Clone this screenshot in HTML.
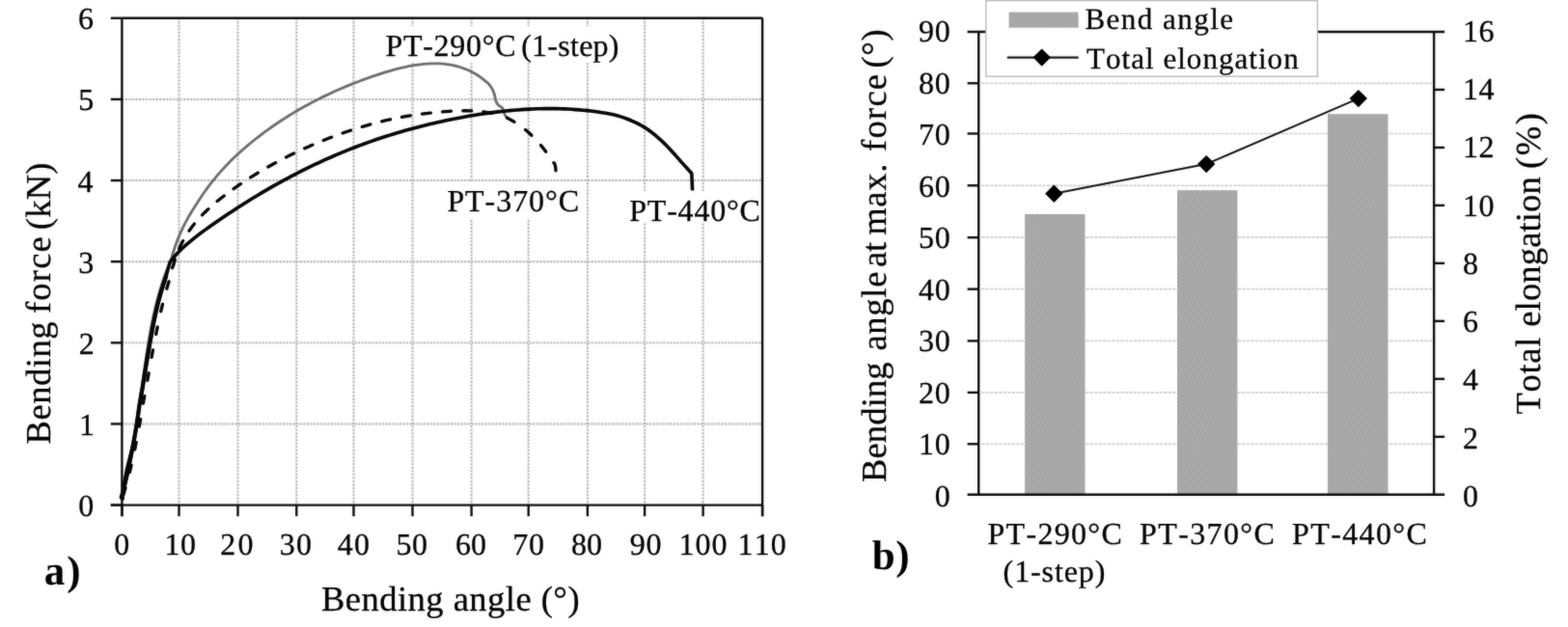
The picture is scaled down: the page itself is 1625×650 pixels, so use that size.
<!DOCTYPE html>
<html lang="en">
<head>
<meta charset="utf-8">
<title>Bending force vs. bending angle; bend angle and total elongation</title>
<style>
html,body{margin:0;padding:0;background:#fff;}
body{width:1625px;height:650px;overflow:hidden;}
svg{display:block;font-family:"Liberation Serif","DejaVu Serif",serif;font-kerning:none;text-rendering:geometricPrecision;}
svg text{white-space:pre;fill:#000;stroke:#000;stroke-width:0.3px;stroke-linejoin:round;}
svg text[font-weight=bold]{stroke-width:0;}
</style>
</head>
<body>
<svg width="1625" height="650" viewBox="0 0 1625 650" role="img" aria-label="a) Bending force versus bending angle curves; b) bend angle and total elongation">
<defs>
<pattern id="tex" width="4" height="4" patternUnits="userSpaceOnUse">
<rect width="4" height="4" fill="#a8a8a8"/>
<path d="M0 0h1v1h-1zM2 2h1v1h-1z" fill="#9c9c9c"/>
<path d="M2 0h1v1h-1zM0 2h1v1h-1z" fill="#b1b1b1"/>
</pattern>
<filter id="soft" x="0" y="0" width="1625" height="650" filterUnits="userSpaceOnUse" color-interpolation-filters="sRGB">
<feGaussianBlur in="SourceGraphic" stdDeviation="1" result="b"/>
<feComposite in="SourceGraphic" in2="b" operator="arithmetic" k1="0" k2="0.68" k3="0.32" k4="0"/>
</filter>
</defs>
<g filter="url(#soft)">
<rect width="1625" height="650" fill="#fff"/>
<g id="left-chart">
<g stroke="#f0f0f0" stroke-width="2.4" fill="none">
<line x1="185.50" y1="18.80" x2="185.50" y2="523.60"/>
<line x1="246.50" y1="18.80" x2="246.50" y2="523.60"/>
<line x1="307.30" y1="18.80" x2="307.30" y2="523.60"/>
<line x1="366.50" y1="18.80" x2="366.50" y2="523.60"/>
<line x1="427.50" y1="18.80" x2="427.50" y2="523.60"/>
<line x1="488.60" y1="18.80" x2="488.60" y2="523.60"/>
<line x1="547.70" y1="18.80" x2="547.70" y2="523.60"/>
<line x1="608.90" y1="18.80" x2="608.90" y2="523.60"/>
<line x1="668.10" y1="18.80" x2="668.10" y2="523.60"/>
<line x1="728.60" y1="18.80" x2="728.60" y2="523.60"/>
<line x1="126.40" y1="439.47" x2="790.10" y2="439.47"/>
<line x1="126.40" y1="355.33" x2="790.10" y2="355.33"/>
<line x1="126.40" y1="271.20" x2="790.10" y2="271.20"/>
<line x1="126.40" y1="187.07" x2="790.10" y2="187.07"/>
<line x1="126.40" y1="102.93" x2="790.10" y2="102.93"/>
</g>
<g stroke="#b2b2b2" stroke-width="1.9" stroke-dasharray="1.8 1.75" fill="none">
<line x1="185.50" y1="18.80" x2="185.50" y2="523.60"/>
<line x1="246.50" y1="18.80" x2="246.50" y2="523.60"/>
<line x1="307.30" y1="18.80" x2="307.30" y2="523.60"/>
<line x1="366.50" y1="18.80" x2="366.50" y2="523.60"/>
<line x1="427.50" y1="18.80" x2="427.50" y2="523.60"/>
<line x1="488.60" y1="18.80" x2="488.60" y2="523.60"/>
<line x1="547.70" y1="18.80" x2="547.70" y2="523.60"/>
<line x1="608.90" y1="18.80" x2="608.90" y2="523.60"/>
<line x1="668.10" y1="18.80" x2="668.10" y2="523.60"/>
<line x1="728.60" y1="18.80" x2="728.60" y2="523.60"/>
<line x1="126.40" y1="439.47" x2="790.10" y2="439.47"/>
<line x1="126.40" y1="355.33" x2="790.10" y2="355.33"/>
<line x1="126.40" y1="271.20" x2="790.10" y2="271.20"/>
<line x1="126.40" y1="187.07" x2="790.10" y2="187.07"/>
<line x1="126.40" y1="102.93" x2="790.10" y2="102.93"/>
</g>
<g fill="#fff">
<rect x="396" y="27.2" width="250" height="38"/>
<rect x="460" y="189" width="143" height="37.6"/>
<rect x="649" y="198" width="140" height="32.6"/>
</g>
<path d="M125.76 515.86L126.80 512.02L127.81 508.17L128.79 504.32L129.73 500.46L130.65 496.59L131.54 492.72L132.40 488.84L133.24 484.96L134.05 481.07L134.84 477.18L135.61 473.29L136.35 469.39L137.07 465.48L137.78 461.58L138.47 457.66L139.14 453.75L139.79 449.83L140.43 445.91L141.06 441.99L141.68 438.07L142.28 434.14L142.87 430.21L143.46 426.28L144.04 422.35L144.61 418.41L145.17 414.48L145.73 410.54L146.29 406.61L146.84 402.67L147.40 398.73L147.95 394.80L148.51 390.86L149.07 386.93L149.63 382.99L150.19 379.06L150.77 375.12L151.34 371.19L151.93 367.26L152.53 363.33L153.15 359.41L153.78 355.49L154.43 351.58L155.10 347.66L155.79 343.76L156.51 339.86L157.26 335.97L158.04 332.08L158.85 328.20L159.70 324.34L160.58 320.48L161.50 316.63L162.47 312.79L163.48 308.96L164.54 305.14L165.64 301.33L166.80 297.54L168.01 293.76L169.28 289.99L170.60 286.24L171.99 282.50L173.44 278.78L174.96 275.08L176.67 271.84L177.67 267.94L178.75 264.09L179.91 260.28L181.14 256.51L182.45 252.80L183.83 249.12L185.28 245.50L186.80 241.92L188.40 238.39L190.06 234.91L191.79 231.48L193.58 228.10L195.44 224.76L197.37 221.47L199.35 218.22L201.40 215.02L203.51 211.78L205.67 208.33L207.90 204.92L210.18 201.54L212.51 198.19L214.90 194.88L217.34 191.64L219.83 188.46L222.37 185.32L224.96 182.21L227.60 179.14L230.28 176.11L233.01 173.11L235.79 170.17L238.60 167.34L241.46 164.54L244.36 161.78L247.29 159.05L250.26 156.37L253.27 153.72L256.32 151.10L259.40 148.53L262.51 145.99L265.65 143.48L268.83 141.02L272.03 138.59L275.26 136.19L278.52 133.84L281.80 131.51L285.11 129.23L288.43 126.98L291.78 124.77L295.16 122.59L298.55 120.45L301.95 118.35L305.38 116.30L308.82 114.28L312.27 112.29L315.74 110.34L319.23 108.43L322.73 106.55L326.24 104.71L329.78 102.90L333.32 101.12L336.88 99.38L340.46 97.67L344.06 96.00L347.67 94.35L351.30 92.74L354.94 91.17L358.60 89.62L362.28 88.11L365.98 86.63L369.69 85.18L373.42 83.76L377.17 82.37L380.94 81.02L384.72 79.69L388.53 78.40L392.35 77.13L396.19 75.90L400.05 74.70L403.92 73.55L407.81 72.45L411.70 71.41L415.62 70.43L419.54 69.53L423.47 68.71L427.40 67.97L431.35 67.34L435.29 66.80L439.24 66.38L443.19 66.07L447.14 65.89L451.08 65.85L455.00 65.94L458.90 66.19L462.78 66.60L466.63 67.18L470.45 67.94L474.23 68.88L477.96 70.01L481.65 71.31L485.28 72.78L488.85 74.46L492.36 76.38L495.80 78.53L499.16 80.94L502.45 83.59L505.51 85.98L506.53 87.09L507.47 88.24L508.34 89.42L509.14 90.63L509.88 91.88L510.54 93.16L511.14 94.48L511.68 95.84L512.14 97.24L512.55 98.68L512.89 100.16L513.22 101.64L513.56 103.11L513.96 104.54L514.46 105.91L515.09 107.17L515.89 108.31L516.90 109.30L518.12 110.14L519.39 110.94L520.48 111.85L521.22 113.00L521.71 114.33L522.13 115.74L522.58 117.17L523.10 118.56L523.75 119.89L524.58 121.11L525.64 122.17" fill="none" stroke="#6c6c6c" stroke-width="2.8" stroke-linejoin="round" stroke-linecap="round"/>
<path d="M126.99 515.86L128.17 512.04L129.31 508.22L130.41 504.38L131.48 500.54L132.52 496.69L133.52 492.84L134.50 488.97L135.44 485.11L136.35 481.23L137.24 477.35L138.10 473.46L138.94 469.57L139.76 465.68L140.57 461.78L141.35 457.87L142.12 453.96L142.86 450.05L143.59 446.13L144.31 442.21L145.00 438.29L145.68 434.36L146.34 430.43L146.99 426.50L147.64 422.57L148.32 418.64L149.07 414.70L149.81 410.77L150.56 406.83L151.30 402.90L152.02 398.96L152.71 395.03L153.40 391.09L154.09 387.16L154.78 383.22L155.48 379.29L156.19 375.36L156.91 371.44L157.64 367.51L158.38 363.59L159.13 359.67L159.90 355.75L160.68 351.84L161.45 347.93L162.21 344.03L162.99 340.13L163.79 336.24L164.61 332.35L165.46 328.47L166.33 324.59L167.24 320.72L168.17 316.86L169.13 313.00L170.13 309.15L171.15 305.31L172.22 301.48L173.32 297.65L174.45 293.84L175.63 290.03L176.47 286.23L177.35 282.44L178.28 278.67" fill="none" stroke="#050505" stroke-width="3.3" stroke-dasharray="7.6 16.70" stroke-dashoffset="21.40" stroke-linejoin="round" stroke-linecap="round"/>
<path d="M178.28 278.67L179.59 275.28L180.69 271.18L181.94 267.19L183.33 263.28L184.86 259.48L186.51 255.76L188.30 252.14L190.20 248.60L192.22 245.14L194.35 241.77L196.59 238.48L198.93 235.26L201.36 232.14L203.89 229.12L206.51 226.17L209.21 223.28L211.98 220.46L214.83 217.70L217.74 215.00L220.72 212.35L223.75 209.76L226.84 207.22L229.97 204.72L233.15 202.27L236.37 199.86L239.62 197.50L242.90 195.16L246.20 192.86L249.52 190.59L252.86 188.36L256.21 186.15L259.59 183.97L262.98 181.85L266.38 179.77L269.81 177.71L273.25 175.68L276.71 173.69L280.18 171.73L283.67 169.79L287.18 167.89L290.70 166.02L294.23 164.18L297.78 162.38L301.35 160.60L304.93 158.86L308.52 157.14L312.13 155.46L315.75 153.81L319.39 152.19L323.03 150.58L326.69 149.01L330.37 147.47L334.05 145.96L337.75 144.48L341.46 143.03L345.18 141.61L348.92 140.23L352.66 138.88L356.42 137.56L360.19 136.27L363.96 135.01L367.75 133.78L371.55 132.59L375.36 131.43L379.17 130.30L383.00 129.20L386.84 128.13L390.68 127.10L394.54 126.10L398.40 125.14L402.28 124.24L406.16 123.40L410.06 122.60L413.96 121.84L417.87 121.11L421.80 120.43L425.74 119.78L429.68 119.17L433.64 118.61L437.60 118.08L441.58 117.59L445.57 117.15L449.57 116.75L453.58 116.34L457.60 115.95L461.63 115.61L465.68 115.32L469.73 115.08L473.79 114.90L477.84 114.79L481.88 114.76L485.92 114.82L489.93 114.98L493.91 115.25L497.87 115.64L501.79 116.09L505.66 116.59L509.49 117.24L513.26 118.06L516.98 119.05" fill="none" stroke="#050505" stroke-width="3.3" stroke-dasharray="9.0 12.22" stroke-dashoffset="20.22" stroke-linejoin="round" stroke-linecap="round"/>
<path d="M516.98 119.05L520.63 120.22L524.21 121.67L527.72 123.36L531.15 125.22L534.51 127.24L537.80 129.42L541.00 131.74L544.13 134.21L547.18 136.80L550.14 139.51L553.02 142.34L555.82 145.27L558.53 148.29L561.15 151.40L563.68 154.59L566.12 157.85L568.47 161.16L570.73 164.53L572.89 167.94L574.80 169.60L575.70 173.20L576.20 178.80" fill="none" stroke="#050505" stroke-width="3.3" stroke-dasharray="8.6 14.05" stroke-dashoffset="13.55" stroke-linejoin="round" stroke-linecap="round"/>
<path d="M127.2 517.5C127.6 508 128.6 499 131 488C133 479 135.6 470 138.6 458" fill="none" stroke="#080808" stroke-width="3.2" stroke-linecap="round"/>
<path d="M125.76 515.86L126.80 512.02L127.81 508.17L128.79 504.32L129.73 500.46L130.65 496.59L131.54 492.72L132.40 488.84L133.24 484.96L134.05 481.07L134.84 477.18L135.61 473.29L136.36 469.39L137.12 465.48L137.86 461.58L138.59 457.66L139.30 453.75L140.00 449.83L140.68 445.91L141.34 441.99L141.96 438.07L142.52 434.14L143.08 430.21L143.62 426.28L144.16 422.35L144.76 418.41L145.46 414.48L146.16 410.54L146.86 406.61L147.55 402.67L148.22 398.73L148.85 394.80L149.47 390.86L150.10 386.93L150.73 382.99L151.37 379.06L152.01 375.12L152.66 371.19L153.32 367.26L153.99 363.33L154.68 359.41L155.38 355.49L156.10 351.58L156.80 347.66L157.49 343.76L158.21 339.86L158.96 335.97L159.74 332.08L160.55 328.20L161.40 324.34L162.28 320.48L163.20 316.63L164.17 312.79L165.18 308.96L166.24 305.14L167.34 301.33L168.50 297.54L169.71 293.76L170.98 289.99L172.12 286.24" fill="none" stroke="#080808" stroke-width="4.2" stroke-linejoin="round" stroke-linecap="round"/>
<path d="M125.76 515.86L126.80 512.02L127.81 508.17L128.79 504.32L129.73 500.46L130.65 496.59L131.54 492.72L132.40 488.84L133.24 484.96L134.05 481.07L134.84 477.18L135.61 473.29L136.36 469.39L137.12 465.48L137.86 461.58L138.59 457.66L139.30 453.75L140.00 449.83L140.68 445.91L141.34 441.99L141.96 438.07L142.52 434.14L143.08 430.21L143.62 426.28L144.16 422.35L144.76 418.41L145.46 414.48L146.16 410.54L146.86 406.61L147.55 402.67L148.22 398.73L148.85 394.80L149.47 390.86L150.10 386.93L150.73 382.99L151.37 379.06L152.01 375.12L152.66 371.19L153.32 367.26L153.99 363.33L154.68 359.41L155.38 355.49L156.10 351.58L156.80 347.66L157.49 343.76L158.21 339.86L158.96 335.97L159.74 332.08L160.55 328.20L161.40 324.34L162.28 320.48L163.20 316.63L164.17 312.79L165.18 308.96L166.24 305.14L167.34 301.33L168.50 297.54L169.71 293.76L170.98 289.99L172.12 286.24L173.11 282.50L174.16 278.78L175.28 275.08L176.19 271.59L178.65 268.48L181.20 265.48L183.85 262.57L186.59 259.75L189.40 257.02L192.28 254.37L195.23 251.78L198.24 249.26L201.31 246.80L204.42 244.38L207.56 242.01L210.74 239.67L213.95 237.35L217.18 235.06L220.42 232.79L223.67 230.52L226.94 228.27L230.21 226.03L233.50 223.81L236.79 221.60L240.10 219.40L243.42 217.22L246.75 215.06L250.10 212.91L253.45 210.78L256.82 208.66L260.19 206.56L263.58 204.48L266.98 202.42L270.39 200.38L273.81 198.36L277.24 196.36L280.68 194.38L284.14 192.42L287.60 190.48L291.08 188.57L294.57 186.67L298.07 184.80L301.58 182.95L305.10 181.09L308.63 179.27L312.18 177.46L315.73 175.68L319.29 173.92L322.87 172.19L326.45 170.47L330.05 168.79L333.65 167.12L337.27 165.48L340.89 163.87L344.53 162.27L348.17 160.71L351.83 159.16L355.49 157.64L359.17 156.15L362.85 154.67L366.54 153.23L370.24 151.80L373.95 150.41L377.67 149.03L381.39 147.68L385.13 146.36L388.87 145.06L392.63 143.78L396.39 142.53L400.16 141.31L403.93 140.11L407.72 138.93L411.51 137.79L415.31 136.66L419.12 135.56L422.94 134.49L426.76 133.44L430.59 132.42L434.43 131.42L438.28 130.45L442.13 129.51L445.99 128.59L449.85 127.69L453.73 126.79L457.60 125.91L461.49 125.06L465.38 124.23L469.28 123.43L473.19 122.65L477.10 121.90L481.01 121.18L484.94 120.48L488.87 119.81L492.80 119.17L496.74 118.56L500.68 117.97L504.64 117.41L508.59 116.87L512.55 116.36L516.52 115.88L520.49 115.43L524.46 115.01L528.44 114.63L532.43 114.27L536.41 113.94L540.40 113.65L544.39 113.39L548.39 113.16L552.38 112.97L556.37 112.82L560.37 112.70L564.36 112.62L568.35 112.59L572.34 112.60L576.32 112.65L580.31 112.74L584.29 112.88L588.26 113.06L592.23 113.30L596.20 113.58L600.15 113.91L604.11 114.24L608.05 114.61L611.99 115.05L615.92 115.53L619.84 116.08L623.75 116.68L627.65 117.34L631.54 118.06L635.41 118.86L639.26 119.73L643.07 120.87L646.85 122.15L650.58 123.54L654.26 125.04L657.89 126.66L661.46 128.40L664.95 130.29L668.38 132.33L671.72 134.57L674.99 136.95L678.19 139.46L681.31 142.08L684.37 144.81L687.36 147.63L690.29 150.53L693.16 153.46L695.97 156.45L698.73 159.50L701.44 162.58L704.11 165.69L706.72 168.59L709.30 171.38L711.83 174.17L714.33 176.95L716.79 179.70L717.60 197.50" fill="none" stroke="#050505" stroke-width="3.6" stroke-linejoin="round" stroke-linecap="butt"/>
<g stroke="#0c0c0c" stroke-width="2.4" fill="none">
<path d="M126.40 18.80H788.60Q790.10 18.80 790.10 20.30V535.20"/>
<path d="M126.40 18.80V535.20"/>
<path d="M114.80 523.60H790.10"/>
<line x1="114.80" y1="523.60" x2="126.40" y2="523.60"/>
<line x1="114.80" y1="439.47" x2="126.40" y2="439.47"/>
<line x1="114.80" y1="355.33" x2="126.40" y2="355.33"/>
<line x1="114.80" y1="271.20" x2="126.40" y2="271.20"/>
<line x1="114.80" y1="187.07" x2="126.40" y2="187.07"/>
<line x1="114.80" y1="102.93" x2="126.40" y2="102.93"/>
<line x1="114.80" y1="18.80" x2="126.40" y2="18.80"/>
<line x1="126.40" y1="523.60" x2="126.40" y2="535.20"/>
<line x1="185.50" y1="523.60" x2="185.50" y2="535.20"/>
<line x1="246.50" y1="523.60" x2="246.50" y2="535.20"/>
<line x1="307.30" y1="523.60" x2="307.30" y2="535.20"/>
<line x1="366.50" y1="523.60" x2="366.50" y2="535.20"/>
<line x1="427.50" y1="523.60" x2="427.50" y2="535.20"/>
<line x1="488.60" y1="523.60" x2="488.60" y2="535.20"/>
<line x1="547.70" y1="523.60" x2="547.70" y2="535.20"/>
<line x1="608.90" y1="523.60" x2="608.90" y2="535.20"/>
<line x1="668.10" y1="523.60" x2="668.10" y2="535.20"/>
<line x1="728.60" y1="523.60" x2="728.60" y2="535.20"/>
<line x1="790.10" y1="523.60" x2="790.10" y2="535.20"/>
</g>
<text x="81.22" y="535.15" font-size="32">0</text>
<text x="81.92" y="451.02" font-size="32">1</text>
<text x="81.77" y="366.88" font-size="32">2</text>
<text x="81.25" y="282.75" font-size="32">3</text>
<text x="80.50" y="198.62" font-size="32">4</text>
<text x="81.25" y="114.48" font-size="32">5</text>
<text x="80.95" y="30.35" font-size="32">6</text>
<text x="118.28" y="575.20" font-size="32">0</text>
<text x="170.49" y="575.20" font-size="32" letter-spacing="0.431">10</text>
<text x="228.19" y="575.20" font-size="32" letter-spacing="2.225">20</text>
<text x="289.77" y="575.20" font-size="32" letter-spacing="1.150">30</text>
<text x="349.68" y="575.20" font-size="32" letter-spacing="1.244">40</text>
<text x="410.44" y="575.20" font-size="32" letter-spacing="0.478">50</text>
<text x="471.93" y="575.20" font-size="32" letter-spacing="-0.006">60</text>
<text x="531.19" y="575.20" font-size="32" letter-spacing="0.728">70</text>
<text x="592.08" y="575.20" font-size="32" letter-spacing="-0.162">80</text>
<text x="652.77" y="575.20" font-size="32" letter-spacing="0.650">90</text>
<text x="703.59" y="575.20" font-size="32" letter-spacing="1.016">100</text>
<text x="764.59" y="575.20" font-size="32" letter-spacing="1.116">110</text>
<text transform="translate(51.90 459.40) rotate(-90)" y="0" font-size="36.5"><tspan x="-1.05" letter-spacing="0.560">Bending </tspan><tspan x="134.38" letter-spacing="1.207">force </tspan><tspan x="221.20" letter-spacing="0.263">(kN)</tspan></text>
<text x="332.95" y="633.00" font-size="36.5" letter-spacing="0.486">Bending angle (°)</text>
<text x="45.81" y="606.20" font-size="43" font-weight="bold" letter-spacing="2.056">a)</text>
<text y="57.60" font-size="32"><tspan x="399.38" letter-spacing="0.735">PT-290°C </tspan><tspan x="540.19" letter-spacing="0.257">(1-step)</tspan></text>
<text x="463.38" y="218.80" font-size="32" letter-spacing="0.950">PT-370°C</text>
<text x="652.28" y="229.40" font-size="32" letter-spacing="0.778">PT-440°C</text>
</g>
<g id="right-chart">
<g stroke="#d0d0d0" stroke-width="1.7" stroke-dasharray="3.4 1.1" fill="none">
<line x1="1017.20" y1="460.30" x2="1485.10" y2="460.30"/>
<line x1="1017.20" y1="406.90" x2="1485.10" y2="406.90"/>
<line x1="1017.20" y1="353.40" x2="1485.10" y2="353.40"/>
<line x1="1017.20" y1="299.70" x2="1485.10" y2="299.70"/>
<line x1="1017.20" y1="246.20" x2="1485.10" y2="246.20"/>
<line x1="1017.20" y1="192.30" x2="1485.10" y2="192.30"/>
<line x1="1017.20" y1="138.50" x2="1485.10" y2="138.50"/>
<line x1="1017.20" y1="86.30" x2="1485.10" y2="86.30"/>
</g>
<rect x="1062.10" y="222.00" width="62.40" height="290.80" fill="url(#tex)"/>
<rect x="1220.00" y="197.20" width="62.40" height="315.60" fill="url(#tex)"/>
<rect x="1375.90" y="118.20" width="62.60" height="394.60" fill="url(#tex)"/>
<g stroke="#0c0c0c" stroke-width="2.4" fill="none">
<path d="M1002.60 33.00H1497.10"/>
<path d="M1002.60 512.80H1497.10"/>
<path d="M1014.20 33.00V512.80"/>
<path d="M1486.10 33.00V512.80"/>
<line x1="1002.60" y1="460.30" x2="1014.20" y2="460.30"/>
<line x1="1002.60" y1="406.90" x2="1014.20" y2="406.90"/>
<line x1="1002.60" y1="353.40" x2="1014.20" y2="353.40"/>
<line x1="1002.60" y1="299.70" x2="1014.20" y2="299.70"/>
<line x1="1002.60" y1="246.20" x2="1014.20" y2="246.20"/>
<line x1="1002.60" y1="192.30" x2="1014.20" y2="192.30"/>
<line x1="1002.60" y1="138.50" x2="1014.20" y2="138.50"/>
<line x1="1002.60" y1="86.30" x2="1014.20" y2="86.30"/>
<line x1="1486.10" y1="452.82" x2="1497.10" y2="452.82"/>
<line x1="1486.10" y1="392.85" x2="1497.10" y2="392.85"/>
<line x1="1486.10" y1="332.88" x2="1497.10" y2="332.88"/>
<line x1="1486.10" y1="272.90" x2="1497.10" y2="272.90"/>
<line x1="1486.10" y1="212.92" x2="1497.10" y2="212.92"/>
<line x1="1486.10" y1="152.95" x2="1497.10" y2="152.95"/>
<line x1="1486.10" y1="92.98" x2="1497.10" y2="92.98"/>
</g>
<path d="M1092.3 200.7L1250.2 170.1L1407.8 102.1" fill="none" stroke="#141414" stroke-width="2.1"/>
<path d="M1083.1 200.7L1092.3 191.5L1101.5 200.7L1092.3 209.9Z" fill="#000"/>
<path d="M1241.0 170.1L1250.2 160.9L1259.4 170.1L1250.2 179.3Z" fill="#000"/>
<path d="M1398.6 102.1L1407.8 92.9L1417.0 102.1L1407.8 111.3Z" fill="#000"/>
<rect x="1021.8" y="0.6" width="343.6" height="78.6" fill="#fff" stroke="#b3b3b3" stroke-width="1.3"/>
<rect x="1045.6" y="12.6" width="72" height="16.1" fill="url(#tex)"/>
<path d="M1043.8 59.6H1117.6" stroke="#141414" stroke-width="2.1" fill="none"/>
<path d="M1070.5 59.6L1079.7 50.4L1088.9 59.6L1079.7 68.8Z" fill="#000"/>
<text x="1124.41" y="30.00" font-size="31" letter-spacing="1.472">Bend angle</text>
<text x="1125.94" y="71.10" font-size="31" letter-spacing="1.047">Total elongation</text>
<text x="968.72" y="524.80" font-size="32">0</text>
<text x="952.02" y="471.27" font-size="32" letter-spacing="0.700">10</text>
<text x="952.02" y="417.73" font-size="32" letter-spacing="0.700">20</text>
<text x="952.02" y="364.20" font-size="32" letter-spacing="0.700">30</text>
<text x="952.02" y="310.67" font-size="32" letter-spacing="0.700">40</text>
<text x="952.02" y="257.13" font-size="32" letter-spacing="0.700">50</text>
<text x="952.02" y="203.60" font-size="32" letter-spacing="0.700">60</text>
<text x="952.02" y="150.07" font-size="32" letter-spacing="0.700">70</text>
<text x="952.02" y="96.53" font-size="32" letter-spacing="0.700">80</text>
<text x="952.02" y="43.00" font-size="32" letter-spacing="0.700">90</text>
<text x="1516.00" y="524.80" font-size="32">0</text>
<text x="1516.00" y="464.57" font-size="32">2</text>
<text x="1516.00" y="404.35" font-size="32">4</text>
<text x="1516.00" y="344.12" font-size="32">6</text>
<text x="1516.00" y="283.90" font-size="32">8</text>
<text x="1516.00" y="223.67" font-size="32" letter-spacing="0.500">10</text>
<text x="1516.00" y="163.45" font-size="32" letter-spacing="0.500">12</text>
<text x="1516.00" y="103.23" font-size="32" letter-spacing="0.500">14</text>
<text x="1516.00" y="43.00" font-size="32" letter-spacing="0.500">16</text>
<text transform="translate(918.00 499.00) rotate(-90)" y="0" font-size="36.5"><tspan x="-1.05" letter-spacing="0.160">Bending </tspan><tspan x="135.42" letter-spacing="0.727">angle </tspan><tspan x="222.09" letter-spacing="-0.300">at </tspan><tspan x="255.23" letter-spacing="0.735">max. </tspan><tspan x="342.08" letter-spacing="1.257">force </tspan><tspan x="428.50" letter-spacing="0.601">(°)</tspan></text>
<text transform="translate(1596.20 428.90) rotate(-90)" y="0" font-size="36.5"><tspan x="-0.66" letter-spacing="0.716">Total </tspan><tspan x="90.17" letter-spacing="0.156">elongation </tspan><tspan x="253.94" letter-spacing="1.600">(%)</tspan></text>
<text x="903.65" y="590.40" font-size="43" font-weight="bold" letter-spacing="0.802">b)</text>
<text x="1023.48" y="564.40" font-size="32" letter-spacing="1.307">PT-290°C</text>
<text x="1039.59" y="603.00" font-size="32" letter-spacing="0.900">(1-step)</text>
<text x="1181.08" y="564.40" font-size="32" letter-spacing="1.364">PT-370°C</text>
<text x="1339.08" y="564.40" font-size="32" letter-spacing="1.364">PT-440°C</text>
</g>
</g>
</svg>
</body>
</html>
